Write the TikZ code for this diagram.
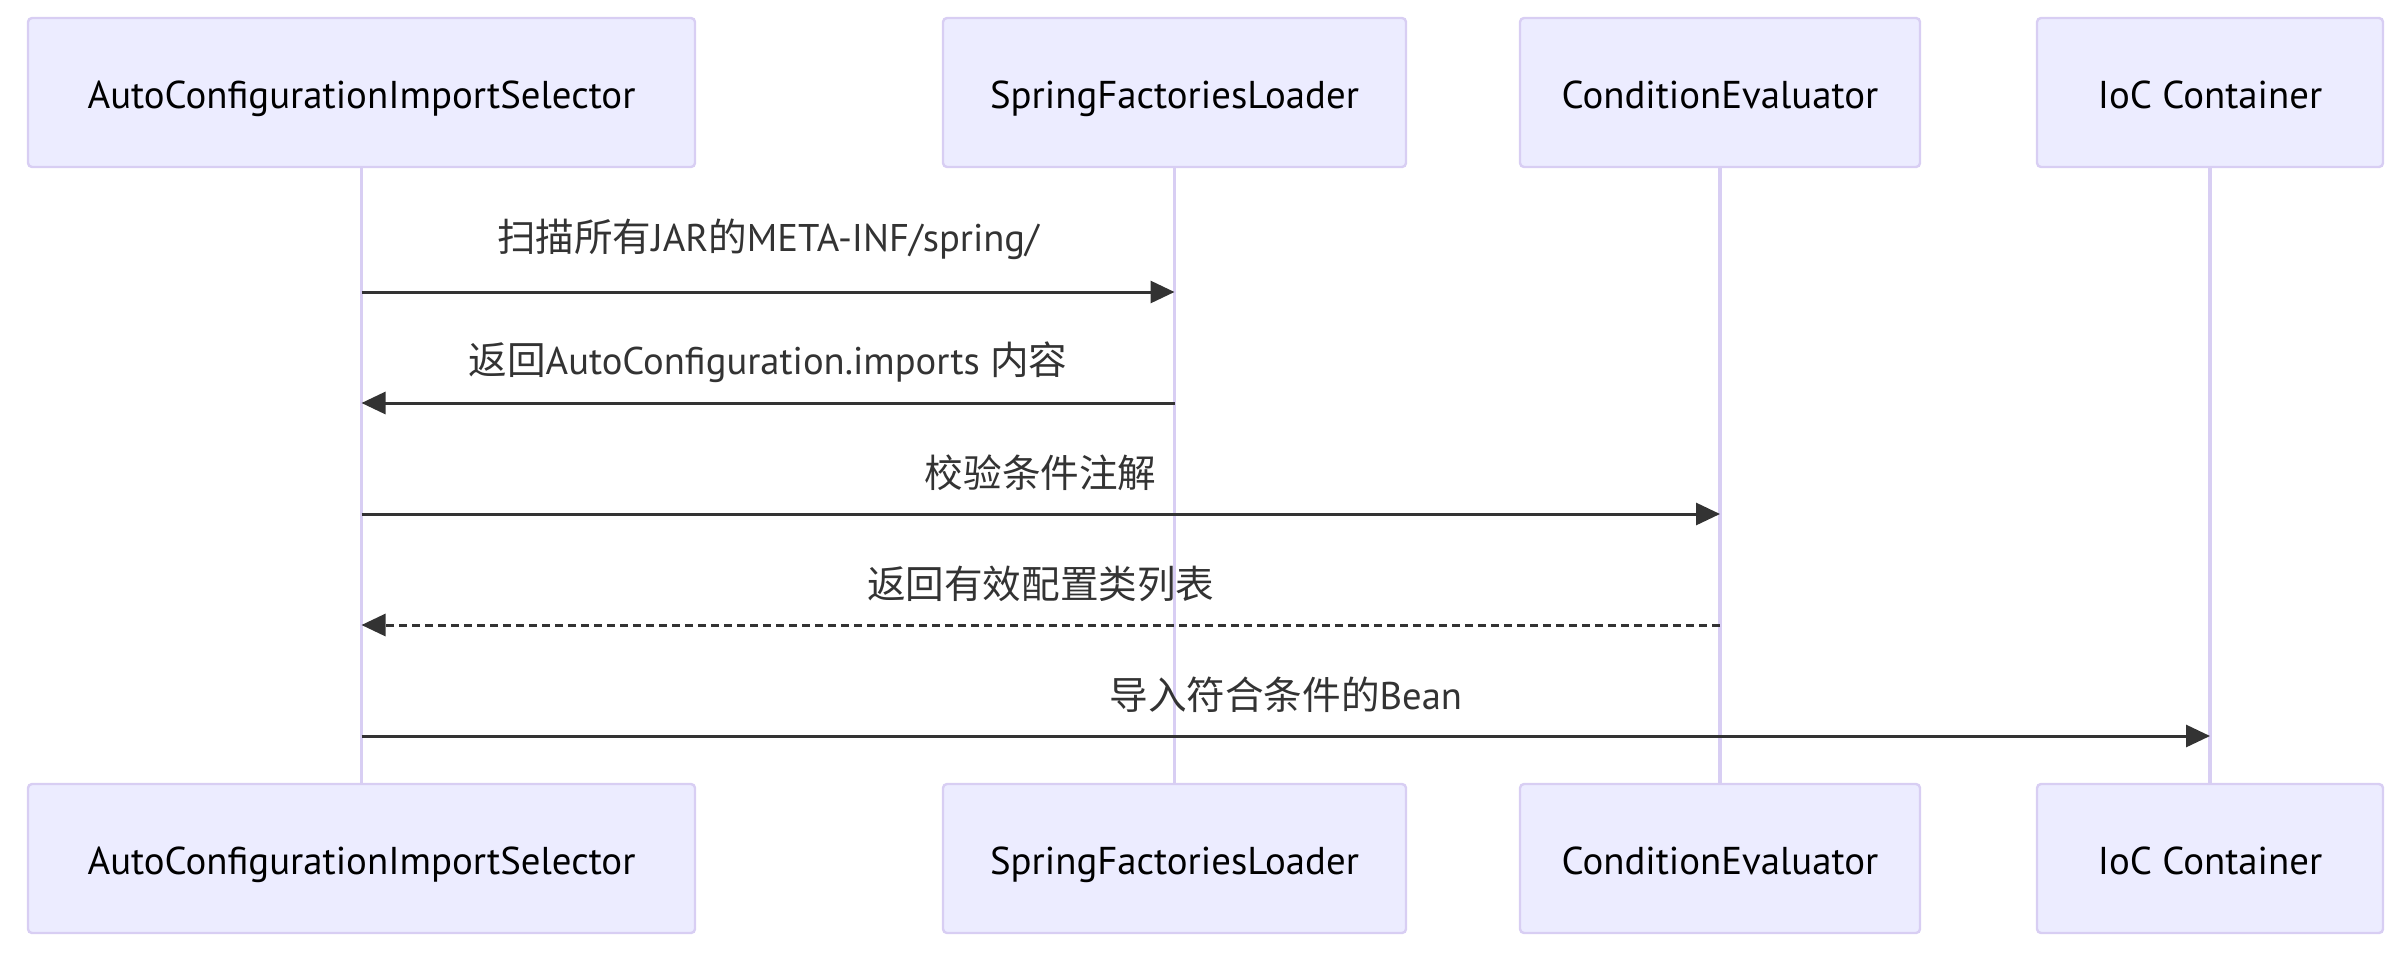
\documentclass[tikz,border=0pt]{standalone}
\usepackage{fontspec}
\setmainfont{PT Sans}
\newfontfamily\cjk{Noto Sans CJK SC}
\usetikzlibrary{arrows.meta}
\definecolor{actorfill}{HTML}{ECECFF}
\definecolor{actorline}{HTML}{D8CEF3}
\definecolor{msgline}{HTML}{333333}
\begin{document}
\begin{tikzpicture}[x=0.5pt, y=-0.5pt,
    actor/.style={draw=actorline, line width=1.2pt, fill=actorfill, rounded corners=2pt,
        minimum height=74.5pt, inner sep=0pt, text height=20pt, text depth=4pt,
        font=\fontsize{19.4}{23}\selectfont},
    life/.style={draw=actorline, line width=1.7pt},
    msg/.style={draw=msgline, line width=1.5pt, -{Triangle[length=12pt, width=11pt]}},
    reply/.style={msg, dash pattern=on 4pt off 2.5pt},
    msgtext/.style={midway, yshift=20.5pt, text=msgline, font=\fontsize{19.3}{23}\selectfont}]
    \useasboundingbox (0,0) rectangle (2401,958);
    \node[actor, minimum width=333.5pt] (selT) at (361.5,92.5) {AutoConfigurationImportSelector};
    \node[actor, minimum width=231.5pt] (ldrT) at (1174.5,92.5) {SpringFactoriesLoader};
    \node[actor, minimum width=200pt] (condT) at (1720,92.5) {ConditionEvaluator};
    \node[actor, minimum width=173pt] (iocT) at (2210,92.5) {IoC Container};
    \node[actor, minimum width=333.5pt] (selB) at (361.5,858.5) {AutoConfigurationImportSelector};
    \node[actor, minimum width=231.5pt] (ldrB) at (1174.5,858.5) {SpringFactoriesLoader};
    \node[actor, minimum width=200pt] (condB) at (1720,858.5) {ConditionEvaluator};
    \node[actor, minimum width=173pt] (iocB) at (2210,858.5) {IoC Container};
    \draw[life]
        (selT) -- (selB)
        (ldrT) -- (ldrB)
        (condT) -- (condB)
        (iocT) -- (iocB);
    \coordinate (m1) at (0,292);
    \coordinate (m2) at (0,403);
    \coordinate (m3) at (0,514);
    \coordinate (m4) at (0,625);
    \coordinate (m5) at (0,736);
    \draw[msg] (selT |- m1) -- (ldrT |- m1)
        node[msgtext, yshift=6pt] {{\cjk 扫描所有}JAR{\cjk 的}META-INF/spring/};
    \draw[msg] (ldrT |- m2) -- (selT |- m2)
        node[msgtext] {{\cjk 返回}AutoConfiguration.imports {\cjk 内容}};
    \draw[msg] (selT |- m3) -- (condT |- m3)
        node[msgtext] {{\cjk 校验条件注解}};
    \draw[reply] (condT |- m4) -- (selT |- m4)
        node[msgtext] {{\cjk 返回有效配置类列表}};
    \draw[msg] (selT |- m5) -- (iocT |- m5)
        node[msgtext] {{\cjk 导入符合条件的}Bean};
\end{tikzpicture}
\end{document}
